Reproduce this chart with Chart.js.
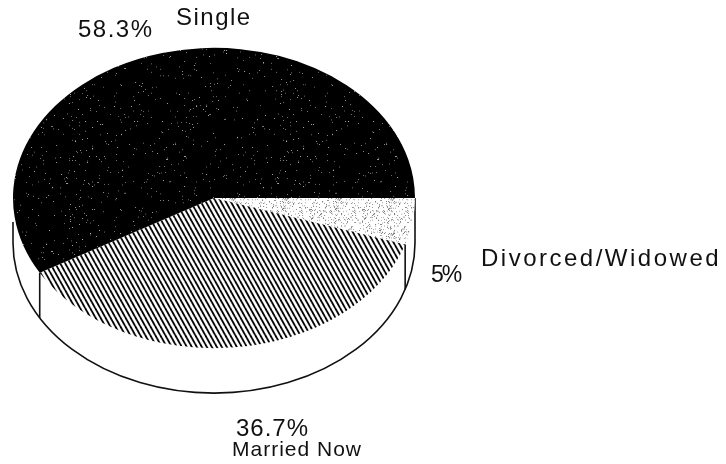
<!DOCTYPE html>
<html><head><meta charset="utf-8">
<style>html,body{margin:0;padding:0;background:#fff}#w{position:relative;width:726px;height:464px}</style>
<script src="https://cdn.jsdelivr.net/npm/chart.js@4"></script>
</head><body><div id="w"><canvas id="c" width="726" height="464"></canvas></div>
<script>
const categories = ['Divorced/Widowed', 'Married Now', 'Single'];
const values = [5, 36.7, 58.3];
const valueLabels = ['5%', '36.7%', '58.3%'];

const squash = 0.747, centerY = 198, depth = 45;
const textSpots = [
  {text: valueLabels[2], x: 78, y: 37, size: 24, sp: 1.5},
  {text: categories[2], x: 176, y: 25, size: 24, sp: 1.5},
  {text: valueLabels[0], x: 431, y: 282, size: 23, sp: -2},
  {text: categories[0], x: 481, y: 266, size: 24, sp: 2.5},
  {text: valueLabels[1], x: 236, y: 436, size: 24, sp: 1},
  {text: categories[1], x: 232, y: 456, size: 21, sp: 1}
];

function tile(w, h, paint) {
  const t = document.createElement('canvas'); t.width = w; t.height = h;
  paint(t.getContext('2d'), w, h);
  return t.getContext('2d').createPattern(t, 'repeat');
}
// speckle texture: fixed scatter from an integer hash, not data
function mix(n) {
  n = Math.imul(n ^ (n >>> 15), 0x2c1b3c6d);
  n = Math.imul(n ^ (n >>> 12), 0x297a2d39);
  return (n ^ (n >>> 15)) >>> 0;
}
function scatter(g, w, h, n) {
  for (let i = 1; i <= n; i++) {
    g.fillRect(mix(i * 2 + 1) % w, mix(i * 2 + 1000) % h, 1, 1);
  }
}
const darkFill = tile(211, 167, (g, w, h) => {
  g.fillStyle = '#000'; g.fillRect(0, 0, w, h);
  g.fillStyle = '#aaa';
  scatter(g, w, h, 420);
});
const hatchFill = tile(5, 12, (g, w, h) => {
  g.fillStyle = '#fff'; g.fillRect(0, 0, w, h);
  g.strokeStyle = '#000'; g.lineWidth = 1.9;
  for (let i = -1; i <= 1; i++) {
    g.beginPath(); g.moveTo(i * w, 0); g.lineTo(i * w + w, h); g.stroke();
  }
});
const lightFill = tile(53, 47, (g, w, h) => {
  g.fillStyle = '#fff'; g.fillRect(0, 0, w, h);
  g.fillStyle = '#777';
  scatter(g, w, h, 300);
});

const pieLook = {
  id: 'pieLook',
  beforeDatasetDraw(chart, args) {
    const ctx = chart.ctx, data = chart.getDatasetMeta(args.index).data;
    const cx = data[0].x, cy = data[0].y, r = data[0].outerRadius;
    // side wall, seen below the top face
    ctx.save();
    ctx.strokeStyle = '#111'; ctx.lineWidth = 1.6;
    ctx.beginPath();
    ctx.ellipse(cx, centerY + depth, r, r * squash, 0, 0, Math.PI);
    ctx.stroke();
    ctx.beginPath();
    ctx.moveTo(cx - r, centerY + depth); ctx.lineTo(cx - r, centerY + 24);
    ctx.moveTo(cx + r, centerY + depth); ctx.lineTo(cx + r, centerY);
    // wall edges at slice boundaries that face the viewer
    [data[0].endAngle, data[1].endAngle].forEach(a => {
      const x = cx + r * Math.cos(a), y = centerY + r * squash * Math.sin(a);
      ctx.moveTo(x, y); ctx.lineTo(x, y + depth);
    });
    ctx.stroke();
    ctx.restore();
    // squash the round pie into the perspective ellipse
    ctx.save();
    ctx.translate(0, centerY); ctx.scale(1, squash); ctx.translate(0, -cy);
  },
  afterDatasetDraw(chart) { chart.ctx.restore(); },
  afterDraw(chart) {
    const ctx = chart.ctx;
    ctx.save();
    ctx.fillStyle = '#111'; ctx.textBaseline = 'alphabetic'; ctx.textAlign = 'left';
    textSpots.forEach(s => {
      ctx.font = s.size + 'px "Liberation Sans"';
      ctx.letterSpacing = s.sp + 'px';
      ctx.fillText(s.text, s.x, s.y);
    });
    ctx.restore();
  }
};

new Chart(document.getElementById('c'), {
  type: 'pie',
  data: {
    labels: categories,
    datasets: [{
      data: values,
      backgroundColor: [lightFill, hatchFill, darkFill],
      borderWidth: 0,
      clip: false
    }]
  },
  options: {
    responsive: false,
    animation: false,
    rotation: 90,
    layout: {padding: {left: 13, right: 311, top: 0, bottom: 62}},
    plugins: {legend: {display: false}, tooltip: {enabled: false}},
    events: []
  },
  plugins: [pieLook]
});
</script></body></html>
